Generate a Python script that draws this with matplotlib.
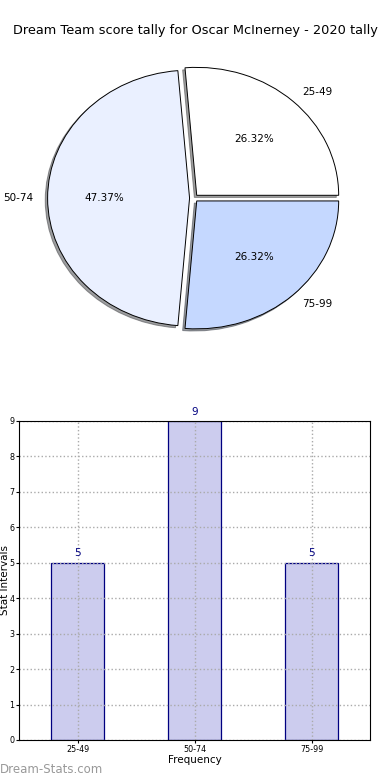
import matplotlib

matplotlib.use("Agg")
import matplotlib.pyplot as plt

# data
intervals = ["25-49", "50-74", "75-99"]
counts = [5, 9, 5]
pie_colors = ["#ffffff", "#eaf0ff", "#c5d8ff"]
title = "Dream Team score tally for Oscar McInerney - 2020 tally"

fig = plt.figure(figsize=(3.9, 7.8), dpi=100)
fig.text(0.5, 0.961, title, ha="center", va="center", fontsize=9.3)

# pie (no equal aspect -> slightly elliptical like the original)
ax1 = fig.add_axes([0.042, 0.541, 0.91, 0.41])
wedges, texts, autotexts = ax1.pie(
    counts,
    labels=intervals,
    colors=pie_colors,
    explode=[0.03] * len(counts),
    autopct="%.2f%%",
    shadow=dict(ox=-0.012, oy=-0.012, shade=0.75),
    startangle=0,
    wedgeprops=dict(edgecolor="black", linewidth=0.7),
    textprops=dict(fontsize=7.5),
)
ax1.set_aspect("auto")
ax1.set_xlim(-1.25, 1.25)
ax1.set_ylim(-1.25, 1.25)

# bar chart
ax2 = fig.add_axes([0.049, 0.0513, 0.9, 0.409])
x = range(len(intervals))
ax2.bar(x, counts, width=0.45, color="#ccccee", edgecolor="navy", linewidth=0.9, zorder=2)
for xi, c in zip(x, counts):
    ax2.text(xi, c + 0.12, str(c), ha="center", va="bottom", color="navy", fontsize=7.5)
ax2.set_xlim(-0.5, 2.5)
ax2.set_ylim(0, 9)
ax2.set_xticks(list(x))
ax2.set_xticklabels(intervals)
ax2.set_yticks(range(0, 10))
ax2.tick_params(labelsize=5.8, direction="out", length=2, pad=1.5)
ax2.grid(True, linestyle=":", color="#aaaaaa", linewidth=1.0, zorder=3)
ax2.set_axisbelow(False)
for sp in ax2.spines.values():
    sp.set_zorder(4)
ax2.set_xlabel("Frequency", fontsize=7.5, labelpad=1)
ax2.set_ylabel("Stat Intervals", fontsize=7.5)
ax2.yaxis.set_label_coords(-0.027, 0.5)

fig.text(0.0, 0.013, "Dream-Stats.com", color="#999999", fontsize=8.5, ha="left", va="center")

fig.savefig("out.png", dpi=100)
